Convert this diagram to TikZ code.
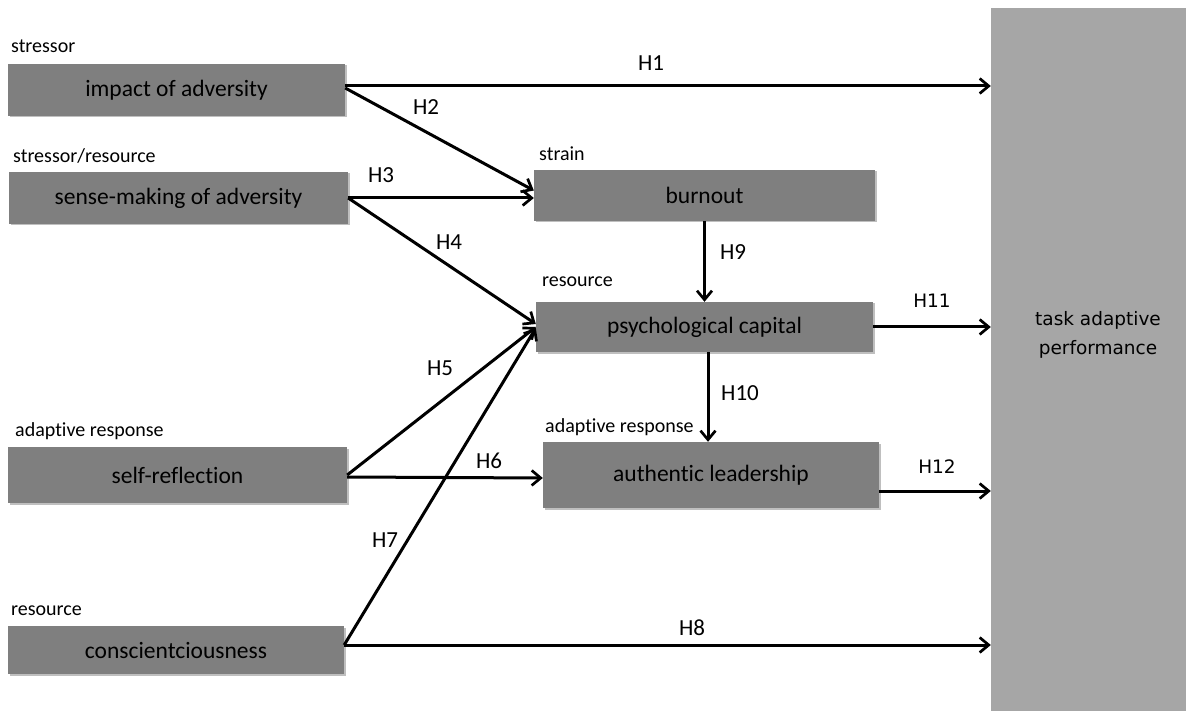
\documentclass[tikz,border=0pt]{standalone}
\usepackage{fontspec}
\setmainfont{Carlito}[Ligatures=NoCommon]
\newfontfamily\dvs{DejaVu Sans}
\usetikzlibrary{arrows.meta,shadows}
\definecolor{boxgray}{HTML}{7F7F7F}
\definecolor{biggray}{HTML}{A6A6A6}
\begin{document}
\begin{tikzpicture}[x=1pt,y=-1pt,
  box/.style={fill=boxgray, inner sep=0pt, text=black,
    font=\fontsize{23.5}{28}\selectfont,
    drop shadow={shadow xshift=1.5pt, shadow yshift=-1.5pt, opacity=0.25, fill=black}},
  cat/.style={anchor=west, inner sep=0pt, font=\fontsize{20}{24}\selectfont},
  hl/.style={inner sep=0pt, font=\fontsize{23}{27}\selectfont},
  hd/.style={inner sep=0pt, text=black, font=\dvs\fontsize{18.5}{22}\selectfont},
  arr/.style={line width=3pt, -{Straight Barb[length=9pt,width=15pt,line width=2.7pt]}}]
\useasboundingbox (0,0) rectangle (1186,711);
% boxes
\node[box, minimum width=337pt, minimum height=52pt] (imp) at (176.5,90) {impact of adversity};
\node[box, minimum width=339pt, minimum height=52pt] (sen) at (178.5,198) {sense-making of adversity};
\node[box, minimum width=339pt, minimum height=56pt] (slf) at (177.5,475) {self-reflection};
\node[box, minimum width=336pt, minimum height=48pt] (con) at (176,650) {conscientciousness};
\node[box, minimum width=341pt, minimum height=51pt] (bur) at (704.5,195.5) {burnout};
\node[box, minimum width=337pt, minimum height=50pt] (psy) at (704.5,327) {psychological capital};
\node[box, minimum width=336pt, minimum height=66pt] (aut) at (711,475) {authentic leadership};
\node[fill=biggray, inner sep=0pt, minimum width=195pt, minimum height=710pt] (tap) at (1088.5,363) {};
\node[hd, align=center, font=\dvs\fontsize{18.5}{29}\selectfont] (taptxt) at (1098,335) {task adaptive\\performance};
% category labels
\node[cat] (c1) at (11,46) {stressor};
\node[cat] (c2) at (13,156) {stressor/resource};
\node[cat] (c3) at (539,154) {strain};
\node[cat] (c4) at (542,282) {resource};
\node[cat] (c5) at (545,427) {adaptive response};
\node[cat] (c6) at (15,431) {adaptive response};
\node[cat] (c7) at (11,611) {resource};
% arrows
\draw[arr] ([yshift=4pt]imp.east) -- ([yshift=4pt]imp.east -| tap.west);
\draw[arr] ([yshift=2pt]imp.east) -- ([yshift=5pt]bur.west);
\draw[arr] (sen.east) -- ([yshift=-2.5pt]bur.west);
\draw[arr] (sen.east) -- ([yshift=3pt]psy.west);
\draw[arr] (slf.east) -- (psy.west);
\draw[arr] ([yshift=-2pt]slf.east) -- ([yshift=-3pt]aut.west);
\draw[arr] ([yshift=5pt]con.east) -- ([yshift=-1pt]psy.west);
\draw[arr] ([yshift=5pt]con.east) -- ([yshift=5pt]con.east -| tap.west);
\draw[arr] (bur.south) -- (psy.north);
\draw[arr] ([xshift=3.5pt]psy.south) -- ([xshift=-3pt]aut.north);
\draw[arr] (psy.east) -- (psy.east -| tap.west);
\draw[arr] ([yshift=-16pt]aut.east) -- ([yshift=-16pt]aut.east -| tap.west);
% hypothesis labels
\node[hl] (h1) at (651,63) {H1};
\node[hl] (h2) at (426,107) {H2};
\node[hl] (h3) at (381,175) {H3};
\node[hl] (h4) at (449,242) {H4};
\node[hl] (h5) at (440,368) {H5};
\node[hl] (h6) at (489,461) {H6};
\node[hl] (h7) at (385,540) {H7};
\node[hl] (h8) at (692,628) {H8};
\node[hl] (h9) at (733,252) {H9};
\node[hl] (h10) at (740,393) {H10};
\node[hd] (h11) at (932,301) {H11};
\node[hd] (h12) at (937,467) {H12};
\end{tikzpicture}
\end{document}
